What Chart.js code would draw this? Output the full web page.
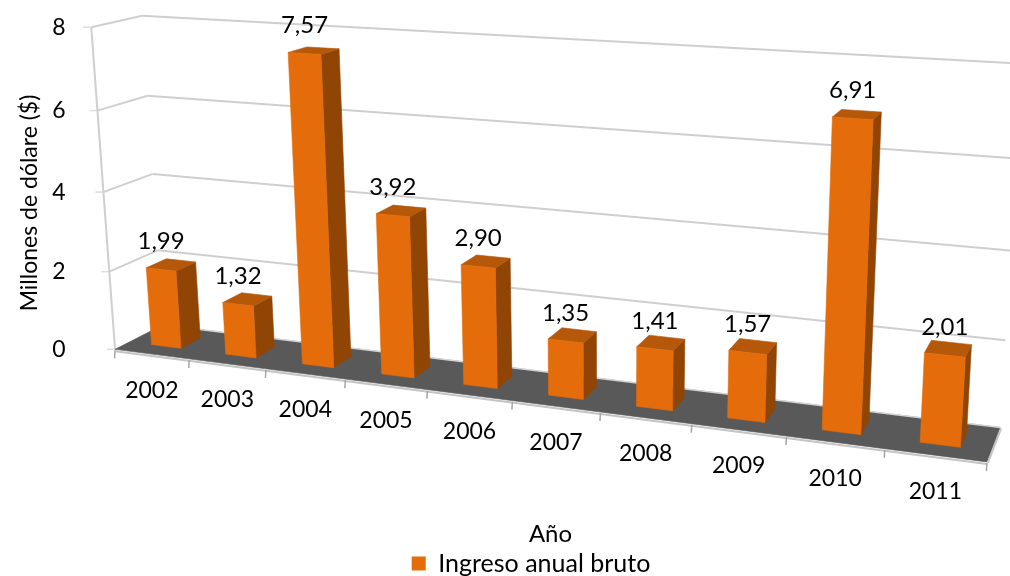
<!DOCTYPE html>
<html><head><meta charset="utf-8">
<style>html,body{margin:0;padding:0;background:#fff}#w{width:1010px;height:576px;position:relative}</style>
<script src="https://cdn.jsdelivr.net/npm/chart.js@4/dist/chart.umd.min.js"></script>
</head><body><div id="w"><canvas id="c" width="1010" height="576"></canvas></div>
<script>
const categories = ['2002','2003','2004','2005','2006','2007','2008','2009','2010','2011'];
const incomeValues = [1.99,1.32,7.57,3.92,2.90,1.35,1.41,1.57,6.91,2.01];
const seriesName = 'Ingreso anual bruto';
const xTitle = 'Año';
const yTitle = 'Millones de dólare ($)';
const yTicks = [0,2,4,6,8];

const FONT = '23px Lato', LABEL_FONT = '24px Lato';
const ORANGE = '#E46C0A', SIDE = '#914504', TOP = '#B5580A', FLOOR = '#595959', GRID = '#CFCFCF';
const DEPTH_FRONT = 0.3, DEPTH_BACK = 0.72;

// perspective camera calibration: [u, v/vmax, w] -> [px, py]
const camera = [
 [0,0,0,115,349],[0,.25,0,110,272],[0,.75,0,98,110],[0,1,0,91,28],
 [0,0,1,163,326],[0,.25,1,158,250],[0,.75,1,147,96],[0,1,1,142,15],
 [1,0,0,987,462],[1,0,1,1000,427],[1,1,1,1022,64],
 [.1,0,0,188,358.5],[.9,0,0,885,449]
];
function solveCamera(){
  const A=[],b=[];
  camera.forEach(([u,v,w,x,y])=>{
    A.push([u,v,w,1,0,0,0,0,-x*u,-x*v,-x*w]);b.push(x);
    A.push([0,0,0,0,u,v,w,1,-y*u,-y*v,-y*w]);b.push(y);
  });
  const n=11,M=[];
  for(let i=0;i<n;i++){M.push(new Array(n+1).fill(0));
    for(let j=0;j<n;j++)for(let k=0;k<A.length;k++)M[i][j]+=A[k][i]*A[k][j];
    for(let k=0;k<A.length;k++)M[i][n]+=A[k][i]*b[k];}
  for(let i=0;i<n;i++){let p=i;for(let r=i+1;r<n;r++)if(Math.abs(M[r][i])>Math.abs(M[p][i]))p=r;
    [M[i],M[p]]=[M[p],M[i]];
    for(let r=0;r<n;r++){if(r===i)continue;const f=M[r][i]/M[i][i];for(let c=i;c<=n;c++)M[r][c]-=f*M[i][c];}}
  return M.map((r,i)=>r[n]/r[i]);
}
const P=solveCamera();
function proj(u,v,w){const d=P[8]*u+P[9]*v+P[10]*w+1;
  return [(P[0]*u+P[1]*v+P[2]*w+P[3])/d,(P[4]*u+P[5]*v+P[6]*w+P[7])/d];}
function poly(ctx,pts,fill){ctx.beginPath();pts.forEach((p,i)=>i?ctx.lineTo(p[0],p[1]):ctx.moveTo(p[0],p[1]));ctx.closePath();ctx.fillStyle=fill;ctx.fill();ctx.lineWidth=.6;ctx.strokeStyle=fill;ctx.stroke();}
function seg(ctx,a,b,col,lw){ctx.beginPath();ctx.moveTo(a[0],a[1]);ctx.lineTo(b[0],b[1]);ctx.strokeStyle=col;ctx.lineWidth=lw;ctx.stroke();}
function text(ctx,s,x,y,font){ctx.font=font||FONT;ctx.fillStyle='#000';ctx.textAlign='center';ctx.textBaseline='middle';ctx.fillText(s,x,y);}

const perspective={id:'perspective',
  beforeDatasetDraw(chart,args){
    const ctx=chart.ctx,a=chart.chartArea,ys=chart.scales.y,xs=chart.scales.x;
    const vmax=ys.max;
    const U=px=>(px-a.left)/a.width, V=val=>val/vmax;
    const step=xs.getPixelForValue(1)-xs.getPixelForValue(0);
    ctx.save();
    // grid
    ys.ticks.forEach(t=>{const v=V(t.value);
      const f=proj(0,v,0),b=proj(0,v,1),r=proj(1,v,1);
      seg(ctx,[f[0]-8,f[1]],f,'#DDDDDD',1.5);
      if(t.value>0){seg(ctx,f,b,GRID,2);seg(ctx,b,r,GRID,2);}
    });
    seg(ctx,proj(0,0,0),proj(0,1,0),GRID,2);
    // floor
    poly(ctx,[proj(0,0,0),proj(1,0,0),proj(1,0,1),proj(0,0,1)],FLOOR);
    const dn=p=>[p[0],p[1]+2];
    seg(ctx,dn(proj(0,0,0)),dn(proj(1,0,0)),'#C4C4C4',2);
    seg(ctx,[proj(1,0,0)[0]+1,proj(1,0,0)[1]+1],[proj(1,0,1)[0]+1,proj(1,0,1)[1]+1],'#C4C4C4',2);
    seg(ctx,proj(0,0,1),proj(1,0,1),'#D4D4D4',1.5);
    // category ticks and labels
    for(let i=0;i<=categories.length;i++){
      const p=proj(U(xs.getPixelForValue(0)+(i-.5)*step),0,0);
      seg(ctx,[p[0],p[1]+1],[p[0]-.5,p[1]+9],'#A6A6A6',1.5);
    }
    categories.forEach((c,i)=>{const p=proj(U(xs.getPixelForValue(i)),0,0);text(ctx,c,p[0],p[1]+36);});
    ys.ticks.forEach(t=>{text(ctx,String(t.value),59,proj(0,V(t.value),0)[1]);});
    // bars
    const meta=chart.getDatasetMeta(args.index);
    meta.data.forEach((el,i)=>{
      const u0=U(el.x-el.width/2),u1=U(el.x+el.width/2),v=V(ys.getValueForPixel(el.y));
      const w0=DEPTH_FRONT,w1=DEPTH_BACK;
      poly(ctx,[proj(u1,0,w0),proj(u1,0,w1),proj(u1,v,w1),proj(u1,v,w0)],SIDE);
      poly(ctx,[proj(u0,v,w0),proj(u1,v,w0),proj(u1,v,w1),proj(u0,v,w1)],TOP);
      poly(ctx,[proj(u0,0,w0),proj(u1,0,w0),proj(u1,v,w0),proj(u0,v,w0)],ORANGE);
    });
    // data labels
    meta.data.forEach((el,i)=>{
      const v=V(ys.getValueForPixel(el.y));
      const p=proj(U(el.x),v,DEPTH_FRONT);
      text(ctx,incomeValues[i].toFixed(2).replace('.',','),p[0],p[1]-28,LABEL_FONT);
    });
    // y title
    ctx.translate(30,203);ctx.rotate(-Math.PI/2);text(ctx,yTitle,0,0);
    ctx.restore();
    return false;
  }
};

new Chart(document.getElementById('c'),{
  type:'bar',
  data:{labels:categories,datasets:[{label:seriesName,data:incomeValues,backgroundColor:ORANGE,barPercentage:.4,categoryPercentage:1}]},
  plugins:[perspective],
  options:{responsive:false,animation:false,devicePixelRatio:1,
    layout:{padding:{left:52,right:0,top:0,bottom:-10}},
    plugins:{legend:{position:'bottom',labels:{font:{family:'Lato',size:25},color:'#000',boxWidth:14,boxHeight:14,padding:2}},tooltip:{enabled:false}},
    scales:{
      x:{grid:{display:false},border:{display:false},ticks:{display:false},
         title:{display:true,text:xTitle,color:'#000',font:{family:'Lato',size:24},padding:{top:0,bottom:0}}},
      y:{min:0,max:8,grid:{display:false},border:{display:false},
         ticks:{display:false,stepSize:2},afterFit(s){s.width=39;}}
    }
  }
});
</script></body></html>
